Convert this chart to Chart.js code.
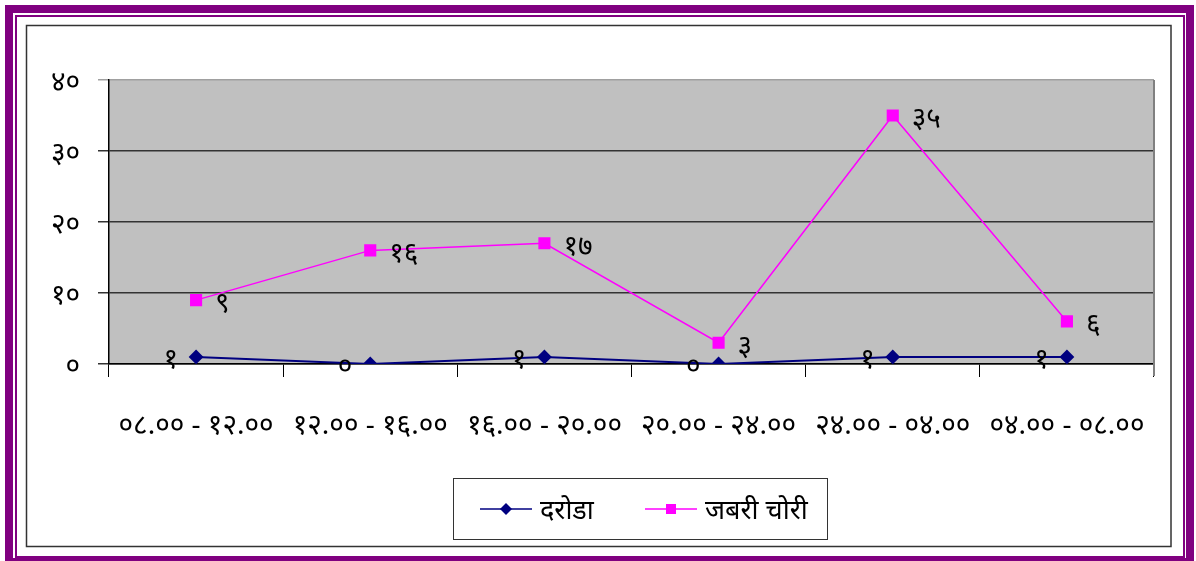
<!DOCTYPE html>
<html>
<head>
<meta charset="utf-8">
<title>दरोडा / जबरी चोरी</title>
<script src="https://cdn.jsdelivr.net/npm/chart.js@4/dist/chart.umd.min.js"></script>
<style>
    html, body { margin: 0; padding: 0; background: #ffffff; }
    #chartBox { width: 1196px; height: 561px; }
</style>
</head>
<body>
<div id="chartBox"><canvas id="crimeChart" width="1196" height="561"></canvas></div>
<script>
// Chart data
var categories = ['०८.०० - १२.००', '१२.०० - १६.००', '१६.०० - २०.००', '२०.०० - २४.००', '२४.०० - ०४.००', '०४.०० - ०८.००'];
var seriesNames = ['दरोडा', 'जबरी चोरी'];
var darodaValues = [1, 0, 1, 0, 1, 1];
var jabariValues = [9, 16, 17, 3, 35, 6];
var yTickValues = [0, 10, 20, 30, 40];

var FONT = "'Noto Sans', 'DejaVu Sans', sans-serif";

// Convert latin digits to Devanagari digits
function toDevanagari(n) {
    var digits = '०१२३४५६७८९';
    return String(n).replace(/[0-9]/g, function (d) { return digits[+d]; });
}

// Purple frame + black inner box + gray plot area
var framePlugin = {
    id: 'frame',
    beforeDraw: function (chart) {
        var ctx = chart.ctx;
        var area = chart.chartArea;
        ctx.save();
        ctx.fillStyle = '#ffffff';
        ctx.fillRect(0, 0, chart.width, chart.height);

        // thick purple outer edge
        ctx.fillStyle = '#800080';
        ctx.fillRect(5, 5, 1189, 8);
        ctx.fillRect(5, 5, 8, 556);
        ctx.fillRect(1186, 5, 8, 556);
        ctx.fillRect(5, 558, 1189, 3);

        // thin purple line
        ctx.strokeStyle = '#800080';
        ctx.lineWidth = 2;
        ctx.strokeRect(16, 16, 1168, 541);

        // black inner box
        ctx.strokeStyle = '#333333';
        ctx.lineWidth = 1.5;
        ctx.strokeRect(26.5, 25.5, 1144.5, 521);

        // plot area
        ctx.fillStyle = '#c0c0c0';
        ctx.fillRect(area.left, area.top, area.right - area.left, area.bottom - area.top);
        ctx.restore();
    },
    beforeDatasetsDraw: function (chart) {
        var ctx = chart.ctx;
        var area = chart.chartArea;
        ctx.save();
        ctx.strokeStyle = '#808080';
        ctx.lineWidth = 2;
        ctx.beginPath();
        ctx.moveTo(area.right, area.top);
        ctx.lineTo(area.right, area.bottom + 12);
        ctx.stroke();
        ctx.restore();
    }
};

// Value labels next to each point
var valueLabelPlugin = {
    id: 'valueLabels',
    afterDatasetsDraw: function (chart) {
        var ctx = chart.ctx;
        ctx.save();
        ctx.font = '28px ' + FONT;
        ctx.fillStyle = '#000000';
        ctx.textBaseline = 'middle';
        chart.data.datasets.forEach(function (ds, i) {
            var meta = chart.getDatasetMeta(i);
            meta.data.forEach(function (pt, j) {
                var text = toDevanagari(ds.data[j]);
                if (ds.labelSide === 'left') {
                    ctx.textAlign = 'right';
                    ctx.fillText(text, pt.x - 18, pt.y + 3);
                } else {
                    ctx.textAlign = 'left';
                    ctx.fillText(text, pt.x + 19, pt.y + 4);
                }
            });
        });
        ctx.restore();
    }
};

// Boxed legend below the axis
var boxLegendPlugin = {
    id: 'boxLegend',
    afterDraw: function (chart) {
        var ctx = chart.ctx;
        var ds = chart.data.datasets;
        ctx.save();
        ctx.strokeStyle = '#333333';
        ctx.lineWidth = 1;
        ctx.strokeRect(453.5, 478.5, 374, 61);

        var items = [
            { x: 480, textX: 540 },
            { x: 645, textX: 705 }
        ];
        ctx.font = '27px ' + FONT;
        ctx.textBaseline = 'middle';
        ctx.textAlign = 'left';
        items.forEach(function (it, i) {
            var y = 509;
            var cx = it.x + 26;
            ctx.strokeStyle = ds[i].borderColor;
            ctx.lineWidth = 1.5;
            ctx.beginPath();
            ctx.moveTo(it.x, y);
            ctx.lineTo(it.x + 52, y);
            ctx.stroke();
            ctx.fillStyle = ds[i].borderColor;
            if (ds[i].pointStyle === 'rectRot') {
                ctx.beginPath();
                ctx.moveTo(cx, y - 6);
                ctx.lineTo(cx + 6, y);
                ctx.lineTo(cx, y + 6);
                ctx.lineTo(cx - 6, y);
                ctx.closePath();
                ctx.fill();
            } else {
                ctx.fillRect(cx - 5, y - 5, 10, 10);
            }
            ctx.fillStyle = '#000000';
            ctx.fillText(seriesNames[i], it.textX, y + 2);
        });
        ctx.restore();
    }
};

var ctx = document.getElementById('crimeChart');
var crimeChart = new Chart(ctx, {
    type: 'line',
    data: {
        labels: categories,
        datasets: [{
            label: seriesNames[0],
            data: darodaValues,
            borderColor: '#000080',
            backgroundColor: '#000080',
            borderWidth: 2,
            pointStyle: 'rectRot',
            pointRadius: 6,
            pointHoverRadius: 6,
            tension: 0,
            labelSide: 'left'
        }, {
            label: seriesNames[1],
            data: jabariValues,
            borderColor: '#ff00ff',
            backgroundColor: '#ff00ff',
            borderWidth: 1.5,
            pointStyle: 'rect',
            pointRadius: 7.5,
            pointHoverRadius: 7.5,
            tension: 0,
            labelSide: 'right'
        }]
    },
    options: {
        responsive: false,
        animation: false,
        layout: {
            padding: { left: 0, top: 80, right: 42, bottom: 0 }
        },
        scales: {
            x: {
                type: 'category',
                offset: true,
                grid: {
                    offset: true,
                    drawOnChartArea: false,
                    drawTicks: true,
                    tickLength: 13,
                    color: '#000000'
                },
                border: { display: true, color: '#000000', width: 1.5 },
                ticks: {
                    color: '#000000',
                    padding: 32,
                    maxRotation: 0,
                    autoSkip: false,
                    font: { family: FONT, size: 28 }
                },
                afterFit: function (scale) { scale.height = 197; }
            },
            y: {
                min: yTickValues[0],
                max: yTickValues[yTickValues.length - 1],
                afterBuildTicks: function (scale) {
                    scale.ticks = yTickValues.map(function (v) { return { value: v }; });
                },
                grid: {
                    color: function (c) { return c.tick && c.tick.value === 40 ? '#a0a0a0' : '#333333'; },
                    lineWidth: 1.5,
                    tickLength: 11
                },
                border: { display: true, color: '#000000', width: 1.5 },
                ticks: {
                    color: '#000000',
                    padding: 18,
                    labelOffset: 3,
                    font: { family: FONT, size: 28 },
                    callback: function (v) { return toDevanagari(v); }
                },
                afterFit: function (scale) { scale.width = 109; }
            }
        },
        plugins: {
            legend: { display: false },
            tooltip: { enabled: false }
        }
    },
    plugins: [framePlugin, valueLabelPlugin, boxLegendPlugin]
});
</script>
</body>
</html>
